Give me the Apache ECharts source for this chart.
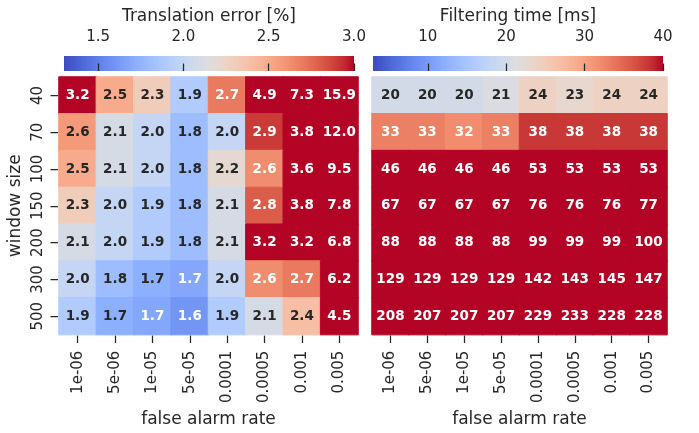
<!DOCTYPE html>
<html lang="en">
<head>
    <meta charset="UTF-8">
    <title>Translation error / filtering time</title>
    <style>
        html, body{
            margin: 0;
            padding: 0;
            background-color: #fff;
        }
        #main{
            width: 699px;
            height: 433px;
        }
    </style>
    <script src="https://cdn.jsdelivr.net/npm/echarts@6/dist/echarts.min.js"></script>
</head>
<body>
<div id="main"></div>
<script type="text/javascript">
    // axes
    var alarmRates = ['1e-06', '5e-06', '1e-05', '5e-05', '0.0001', '0.0005', '0.001', '0.005'];
    var windowSizes = ['40', '70', '100', '150', '200', '300', '500'];

    // translation error [%], one row per window size
    var errRows = [
        [3.2, 2.5, 2.3, 1.9, 2.7, 4.9, 7.3, 15.9],
        [2.58, 2.1, 2.0, 1.8, 2.0, 2.9, 3.8, 12.0],
        [2.5, 2.1, 2.0, 1.8, 2.2, 2.63, 3.6, 9.5],
        [2.3, 2.0, 1.9, 1.8, 2.1, 2.8, 3.8, 7.8],
        [2.1, 2.0, 1.9, 1.8, 2.1, 3.2, 3.2, 6.8],
        [2.0, 1.8, 1.72, 1.68, 2.0, 2.63, 2.7, 6.2],
        [1.9, 1.72, 1.68, 1.6, 1.9, 2.1, 2.4, 4.5]
    ];

    // filtering time [ms]
    var timeRows = [
        [20, 20, 20, 21, 24, 23, 24, 24],
        [33, 33, 32, 33, 38, 38, 38, 38],
        [46, 46, 46, 46, 53, 53, 53, 53],
        [67, 67, 67, 67, 76, 76, 76, 77],
        [88, 88, 88, 88, 99, 99, 99, 100],
        [129, 129, 129, 129, 142, 143, 145, 147],
        [208, 207, 207, 207, 229, 233, 228, 228]
    ];

    // colour bar ranges and ticks
    var errRange = [1.3, 3.0];
    var errTicks = [1.5, 2.0, 2.5, 3.0];
    var timeRange = [3, 40];
    var timeTicks = [10, 20, 30, 40];

    // coolwarm
    var coolwarm = [
        [59,76,192],[68,90,204],[77,104,215],[87,117,225],[98,130,234],[108,142,241],
        [119,154,247],[130,165,251],[141,176,254],[152,185,255],[163,194,255],[174,201,253],
        [184,208,249],[194,213,244],[204,217,238],[213,219,230],[221,221,221],[229,216,209],
        [236,211,197],[241,204,185],[245,196,173],[247,187,160],[247,177,148],[247,166,135],
        [244,154,123],[241,141,111],[236,127,99],[229,112,88],[222,96,77],[213,80,66],
        [203,62,56],[192,40,47],[180,4,38]
    ];
    var cwColors = coolwarm.map(function(c){ return 'rgb(' + c.join(',') + ')'; });
    var cwStops = coolwarm.map(function(c, i){
        return {offset: i / (coolwarm.length - 1), color: cwColors[i]};
    });

    function cmap(t){
        t = Math.max(0, Math.min(1, t));
        var p = t * (coolwarm.length - 1);
        var i = Math.min(Math.floor(p), coolwarm.length - 2);
        var f = p - i;
        return [0, 1, 2].map(function(k){
            return coolwarm[i][k] + (coolwarm[i + 1][k] - coolwarm[i][k]) * f;
        });
    }
    // dark text on light cells, white on dark (same rule as seaborn)
    function textColor(rgb){
        var lin = rgb.map(function(c){
            c = c / 255;
            return c <= 0.03928 ? c / 12.92 : Math.pow((c + 0.055) / 1.055, 2.4);
        });
        var lum = 0.2126 * lin[0] + 0.7152 * lin[1] + 0.0722 * lin[2];
        return lum > 0.408 ? '#262626' : '#ffffff';
    }
    function cells(rows, range){
        var out = [];
        rows.forEach(function(row, y){
            row.forEach(function(v, x){
                var rgb = cmap((v - range[0]) / (range[1] - range[0]));
                out.push({
                    value: [x, y, v],
                    label: {color: textColor(rgb)},
                    // same colour as the fill, only to hide the antialias seams
                    itemStyle: {borderColor: 'rgb(' + rgb.map(Math.round).join(',') + ')', borderWidth: 1}
                });
            });
        });
        return out;
    }

    var dark = '#262626';
    var font = 'DejaVu Sans';

    function heatX(gridIndex){
        return {
            type: 'category', gridIndex: gridIndex, data: alarmRates, offset: 1,
            name: 'false alarm rate', nameLocation: 'middle', nameGap: 74.5,
            nameTextStyle: {fontSize: 17, color: dark},
            axisLine: {show: false},
            axisTick: {show: true, alignWithLabel: true, interval: 0, length: 7.5, lineStyle: {color: dark, width: 1.25}},
            axisLabel: {rotate: 90, interval: 0, fontSize: 15, color: dark, margin: 15},
            splitLine: {show: false}
        };
    }
    function barX(gridIndex, range, ticks, title, digits){
        return {
            type: 'value', gridIndex: gridIndex, position: 'top', min: range[0], max: range[1],
            name: title, nameLocation: 'middle', nameGap: 31,
            nameTextStyle: {fontSize: 17, color: dark},
            axisLine: {show: false},
            axisTick: {show: true, customValues: ticks, length: 7.5, lineStyle: {color: dark, width: 1.25}},
            axisLabel: {customValues: ticks, fontSize: 15, color: dark, margin: 11,
                formatter: function(v){ return v.toFixed(digits); }},
            splitLine: {show: false}
        };
    }
    function gradient(){
        return new echarts.graphic.LinearGradient(0, 0, 1, 0, cwStops);
    }

    var myChart = echarts.init(document.getElementById('main'));

    var option = {
        animation: false,
        backgroundColor: '#fff',
        textStyle: {fontFamily: font},
        grid: [
            {left: 59, top: 77, width: 299, height: 260},
            {left: 372, top: 77, width: 295, height: 260},
            {left: 64, top: 56, width: 290, height: 15, show: true, borderWidth: 0, backgroundColor: gradient()},
            {left: 373, top: 56, width: 290, height: 15, show: true, borderWidth: 0, backgroundColor: gradient()}
        ],
        xAxis: [
            heatX(0),
            heatX(1),
            barX(2, errRange, errTicks, 'Translation error [%]', 1),
            barX(3, timeRange, timeTicks, 'Filtering time [ms]', 0)
        ],
        yAxis: [
            {
                type: 'category', gridIndex: 0, data: windowSizes, inverse: true, offset: 1,
                name: 'window size', nameLocation: 'middle', nameGap: 34,
                nameTextStyle: {fontSize: 17, color: dark},
                axisLine: {show: false},
                axisTick: {show: true, alignWithLabel: true, interval: 0, length: 7.5, lineStyle: {color: dark, width: 1.25}},
                axisLabel: {rotate: 90, interval: 0, fontSize: 15, color: dark, margin: 12},
                splitLine: {show: false}
            },
            {
                type: 'category', gridIndex: 1, data: windowSizes, inverse: true,
                axisLine: {show: false}, axisTick: {show: false}, axisLabel: {show: false}
            },
            {type: 'value', gridIndex: 2, show: false},
            {type: 'value', gridIndex: 3, show: false}
        ],
        visualMap: [
            {type: 'continuous', show: false, seriesIndex: 0, dimension: 2,
                min: errRange[0], max: errRange[1], inRange: {color: cwColors}},
            {type: 'continuous', show: false, seriesIndex: 1, dimension: 2,
                min: timeRange[0], max: timeRange[1], inRange: {color: cwColors}}
        ],
        series: [
            {
                name: 'Translation error', type: 'heatmap', xAxisIndex: 0, yAxisIndex: 0,
                data: cells(errRows, errRange),
                label: {show: true, fontSize: 13.5, fontWeight: 'bold',
                    formatter: function(p){ return p.value[2].toFixed(1); }},
                emphasis: {disabled: true}
            },
            {
                name: 'Filtering time', type: 'heatmap', xAxisIndex: 1, yAxisIndex: 1,
                data: cells(timeRows, timeRange),
                label: {show: true, fontSize: 13.5, fontWeight: 'bold',
                    formatter: function(p){ return p.value[2].toFixed(0); }},
                emphasis: {disabled: true}
            }
        ]
    };

    myChart.setOption(option);
</script>
</body>
</html>
